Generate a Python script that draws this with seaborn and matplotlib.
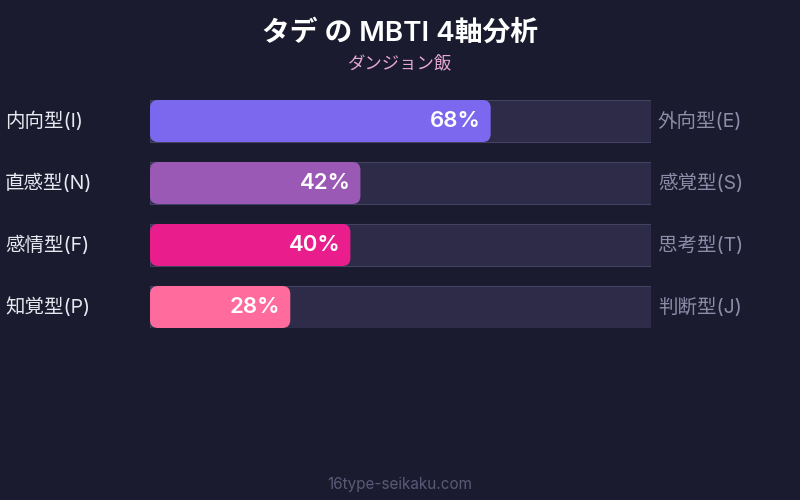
import pandas as pd
import matplotlib
matplotlib.use("Agg")
import matplotlib.pyplot as plt
from matplotlib.patches import FancyBboxPatch
import seaborn as sns

# chart data
title = "タデ の MBTI 4軸分析"
subtitle = "ダンジョン飯"
footer = "16type-seikaku.com"
left_labels = ["内向型(I)", "直感型(N)", "感情型(F)", "知覚型(P)"]
right_labels = ["外向型(E)", "感覚型(S)", "思考型(T)", "判断型(J)"]
scores = [68, 42, 40, 28]
bar_colors = ["#7b68ee", "#9b59b6", "#e91e8c", "#ff6b9d"]

BG = "#1a1b2e"
TRACK = "#2d2b48"
TRACK_EDGE = "#444263"

sns.set_theme(style="white")
plt.rcParams["font.family"] = ["Inter", "Noto Sans CJK JP", "DejaVu Sans"]

df = pd.DataFrame({"axis": left_labels, "score": scores, "full": [100] * len(scores)})

fig = plt.figure(figsize=(8, 5), dpi=100, facecolor=BG)
# axes spans the bar area: x 150..651 px, y 100..328 px
ax = fig.add_axes([150 / 800, 1 - 328 / 500, 501 / 800, 228 / 500])
ax.set_facecolor(BG)

bw = 42 / 62
sns.barplot(data=df, x="full", y="axis", color=TRACK, width=bw, ax=ax,
            edgecolor=TRACK_EDGE, linewidth=0.8, orient="h", saturation=1)
n_track = len(ax.patches)
sns.barplot(data=df, x="score", y="axis", hue="axis", palette=bar_colors,
            width=bw, ax=ax, legend=False, orient="h", linewidth=0, saturation=1)

ax.set_xlim(0, 100)
ax.set_ylim(len(scores) - 1 + bw / 2, -bw / 2)

# swap the value bars for rounded versions of the same geometry
x_per_px = 100 / 501
y_per_px = (len(scores) - 1 + bw) / 228
fills = list(ax.patches[n_track:])
for p, c in zip(fills, bar_colors):
    x0, y0 = p.get_x(), p.get_y()
    w, h = p.get_width(), p.get_height()
    p.remove()
    r = FancyBboxPatch((x0, y0), w, h,
                       boxstyle=f"round,pad=0,rounding_size={8 * x_per_px}",
                       mutation_aspect=y_per_px / x_per_px,
                       facecolor=c, edgecolor="none", zorder=3)
    ax.add_patch(r)
    ax.text(x0 + w - 10 * x_per_px, y0 + h / 2, f"{int(round(w))}%",
            ha="right", va="center", color="white", fontsize=16,
            fontweight="semibold", zorder=4)

ax.set_xticks([])
ax.set_yticks([])
ax.set_xlabel("")
ax.set_ylabel("")
for s in ax.spines.values():
    s.set_visible(False)

for i, (lt, rt) in enumerate(zip(left_labels, right_labels)):
    yf = 1 - (121 + 62 * i) / 500
    fig.text(5 / 800, yf, lt, ha="left", va="center", color="#e8e8f0", fontsize=14)
    fig.text(658 / 800, yf, rt, ha="left", va="center", color="#8e8ca8", fontsize=14)

fig.text(0.5, 1 - 33 / 500, title, ha="center", va="center", color="white",
         fontsize=20, fontweight="semibold")
fig.text(0.5, 1 - 64 / 500, subtitle, ha="center", va="center", color="#e6a8d7",
         fontsize=12.5)
fig.text(0.5, 1 - 484 / 500, footer, ha="center", va="center", color="#5a5a78",
         fontsize=11)

fig.savefig("out.png", dpi=100, facecolor=BG)
